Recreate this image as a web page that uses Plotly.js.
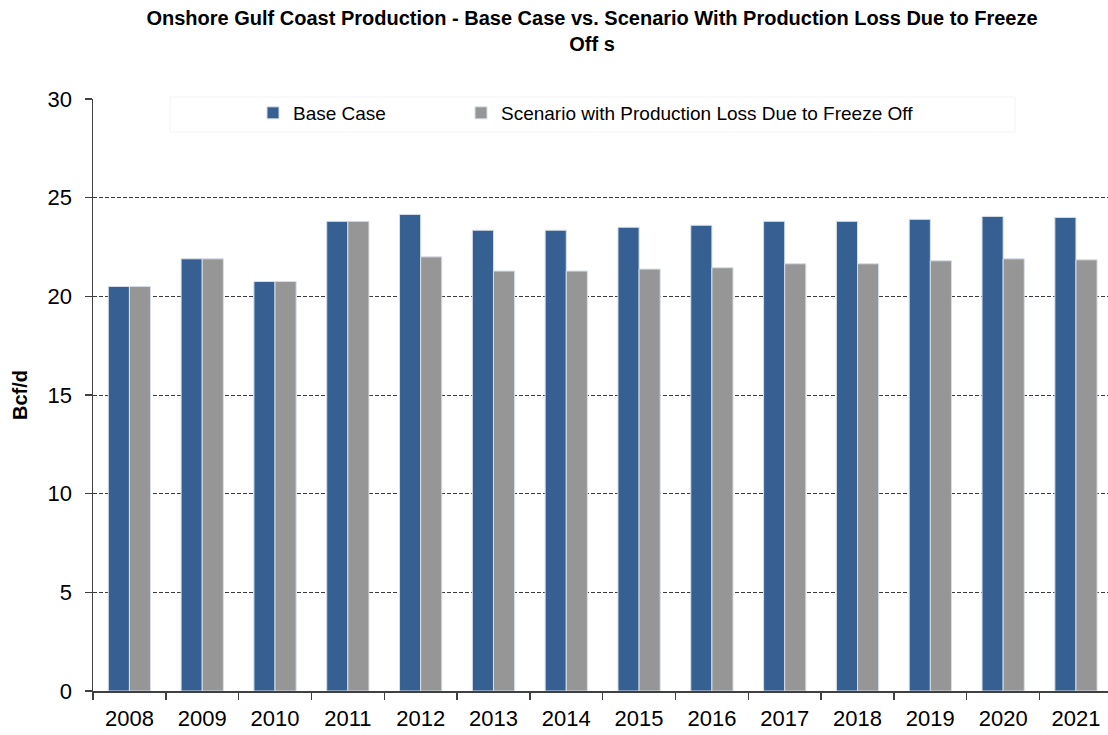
<!DOCTYPE html>
<html>
<head>
<meta charset="utf-8">
<script src="https://cdn.plot.ly/plotly-3.0.1.min.js"></script>
<style>
  html, body { margin: 0; padding: 0; background: #fff; }
  #chart { width: 1108px; height: 735px; }
</style>
</head>
<body>
<div id="chart"></div>
<script>
// Onshore Gulf Coast production, Bcf/d
const years = ['2008', '2009', '2010', '2011', '2012', '2013', '2014',
               '2015', '2016', '2017', '2018', '2019', '2020', '2021'];
const baseCase = [20.5, 21.9, 20.75, 23.8, 24.15, 23.35, 23.35,
                  23.5, 23.6, 23.8, 23.8, 23.9, 24.05, 24.0];
const freezeOff = [20.5, 21.9, 20.75, 23.8, 22.0, 21.28, 21.28,
                   21.38, 21.45, 21.65, 21.65, 21.8, 21.9, 21.85];
const yTicks = [0, 5, 10, 15, 20, 25, 30];

const W = 1108, H = 735;
const plotL = 93, plotR = 1108, plotT = 99, plotB = 691.5;
const px2x = p => (p - plotL) / (plotR - plotL);
const px2y = p => (plotB - p) / (plotB - plotT);

const barLine = { color: 'rgba(215,222,232,1)', width: 1 };

const traces = [
  {
    type: 'bar', name: 'Base Case', x: years, y: baseCase,
    marker: { color: '#366092', line: barLine },
    legend: 'legend',
    hoverinfo: 'x+y'
  },
  {
    type: 'bar', name: 'Scenario with Production Loss Due to Freeze Off', x: years, y: freezeOff,
    marker: { color: '#969696', line: barLine },
    legend: 'legend2',
    hoverinfo: 'x+y'
  }
];

const legendBase = {
  orientation: 'h', xanchor: 'left', yanchor: 'middle',
  y: px2y(113),
  bgcolor: 'rgba(0,0,0,0)', borderwidth: 0,
  font: { size: 19, color: '#000' }
};

const layout = {
  width: W, height: H,
  paper_bgcolor: '#fff', plot_bgcolor: '#fff',
  margin: { l: plotL, r: W - plotR, t: plotT, b: H - plotB, pad: 0 },
  font: { family: 'Liberation Sans, Arial, sans-serif', color: '#000' },
  title: {
    text: '<b>Onshore Gulf Coast Production - Base Case vs. Scenario With Production Loss Due to Freeze<br>Off s</b>',
    font: { family: 'Liberation Sans, sans-serif', size: 20, color: '#000' },
    xref: 'container', x: 592 / W, xanchor: 'center',
    yref: 'container', y: 1 - 25 / H, yanchor: 'top'
  },
  barmode: 'group', bargap: 0.42, bargroupgap: 0,
  showlegend: true,
  legend: Object.assign({}, legendBase, { x: px2x(253) }),
  legend2: Object.assign({}, legendBase, { x: px2x(461) }),
  xaxis: {
    type: 'category',
    range: [-0.5, 13.44],
    showline: true, linecolor: '#404040', linewidth: 1.5,
    ticks: 'outside', tickson: 'boundaries', ticklen: 7, tickcolor: '#404040', tickwidth: 1.5,
    ticklabelstandoff: 7,
    showgrid: false, zeroline: false,
    tickfont: { size: 22, color: '#000' }
  },
  yaxis: {
    range: [0, 30], tickvals: yTicks, ticktext: yTicks.map(String),
    showline: true, linecolor: '#404040', linewidth: 1.5,
    ticks: 'outside', ticklen: 7, tickcolor: '#404040', tickwidth: 1.5,
    ticklabelstandoff: 8,
    showgrid: true, gridcolor: '#3c3c3c', gridwidth: 1, griddash: '4px,2px',
    zeroline: false,
    tickfont: { size: 22, color: '#000' },
    title: { text: '<b>Bcf/d</b>', font: { size: 20, color: '#000' }, standoff: 14 }
  },
  shapes: [
    {
      // white backing behind the legend, hiding the top gridline there
      type: 'rect', layer: 'between',
      xref: 'paper', yref: 'paper',
      x0: px2x(170), x1: px2x(1015), y0: px2y(132), y1: px2y(97),
      fillcolor: '#fff', line: { color: '#f3f3f3', width: 1 }
    }
  ]
};

Plotly.newPlot('chart', traces, layout, { displayModeBar: false, staticPlot: true });
</script>
</body>
</html>
